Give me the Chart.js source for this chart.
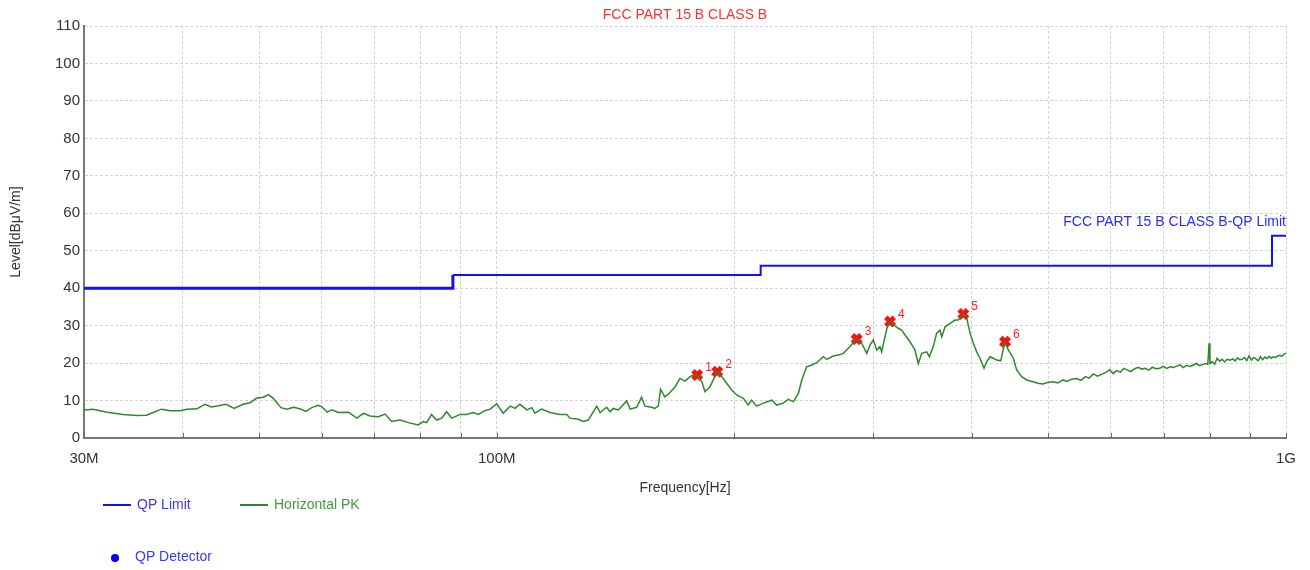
<!DOCTYPE html>
<html>
<head>
<meta charset="utf-8">
<script src="https://cdn.jsdelivr.net/npm/chart.js@4.4.0/dist/chart.umd.min.js"></script>
<style>
  html, body { margin: 0; padding: 0; background: #fff; }
  #wrap { width: 1310px; height: 570px; position: relative; }
</style>
</head>
<body>
<div id="wrap"><canvas id="emi"></canvas></div>
<script>
// frequencies in MHz, levels in dBuV/m
const limitFreq = [30, 88, 216, 960, 1000];
const limitLevel = [40, 43.5, 46, 54, 54];

const pkFreq = [
  30.0, 30.8, 32.1, 33.6, 35.0, 36.0, 36.7, 37.6, 38.6, 39.7,
  40.5, 41.7, 42.7, 43.5, 44.4, 45.4, 46.5, 47.7, 48.7, 49.6,
  50.6, 51.4, 52.1, 53.3, 54.2, 55.3, 56.3, 57.3, 58.3, 59.4,
  60.0, 61.0, 61.8, 63.0, 64.9, 66.5, 67.8, 69.1, 70.8, 72.2,
  73.6, 75.4, 77.3, 79.5, 80.7, 81.5, 82.7, 83.9, 85.2, 86.4,
  87.7, 89.9, 91.6, 93.4, 94.8, 96.6, 98.1, 100.0, 101.9, 104.0,
  105.5, 107.0, 109.2, 110.8, 111.8, 114.0, 116.8, 120.3, 122.7, 123.8,
  126.9, 128.8, 130.6, 133.9, 135.2, 137.8, 139.2, 140.5, 142.6, 146.1,
  147.6, 150.4, 152.6, 154.1, 157.1, 158.6, 160.2, 161.3, 163.3, 165.0,
  168.3, 170.7, 173.2, 175.8, 177.5, 179.5, 181.9, 183.6, 186.3, 188.1,
  190.3, 192.8, 195.6, 198.5, 201.4, 205.3, 208.3, 210.4, 213.5, 217.7,
  223.1, 226.3, 230.7, 234.1, 237.6, 241.1, 243.5, 247.0, 250.7, 254.4,
  259.3, 261.9, 266.9, 271.7, 274.9, 280.3, 285.8, 290.0, 294.3, 297.1,
  300.0, 303.0, 305.9, 307.4, 310.4, 312.5, 315.0, 319.6, 322.7, 325.9,
  329.1, 333.9, 338.8, 342.1, 345.5, 350.6, 353.3, 357.4, 360.9, 364.4,
  366.3, 369.9, 375.3, 380.8, 384.5, 390.1, 394.0, 397.8, 401.7, 405.6,
  409.6, 414.4, 417.7, 421.7, 425.7, 430.0, 435.1, 437.6, 440.6, 444.8,
  451.4, 455.8, 462.5, 469.4, 478, 485, 492, 500, 507, 514,
  522, 528, 535, 543, 550, 557, 563, 570, 577, 584,
  592, 598, 604, 610, 617, 623, 629, 636, 643, 650,
  656, 663, 670, 677, 684, 692, 699, 706, 713, 720,
  727, 734, 741, 748, 756, 763, 770, 777, 784, 791,
  796, 799, 801, 806, 812, 818, 824, 830, 836, 842,
  849, 856, 862, 868, 874, 880, 886, 892, 898, 904,
  910, 916, 922, 928, 934, 940, 946, 952, 958, 964,
  970, 976, 982, 988, 994, 1000
];
const pkLevel = [
  7.5, 7.7, 6.9, 6.3, 6.0, 6.1, 6.8, 7.7, 7.3, 7.3,
  7.7, 7.8, 9.0, 8.3, 8.6, 9.0, 7.9, 9.0, 9.4, 10.6,
  10.9, 11.6, 10.6, 8.1, 7.7, 8.2, 7.8, 7.1, 8.1, 8.7,
  8.4, 6.9, 7.5, 6.8, 6.9, 5.3, 6.6, 5.9, 5.7, 6.4,
  4.4, 4.8, 4.1, 3.5, 4.4, 4.1, 6.3, 4.8, 5.3, 7.0,
  5.3, 6.3, 6.3, 6.8, 6.3, 7.3, 7.7, 9.1, 6.6, 8.5,
  7.9, 9.0, 7.5, 8.1, 6.6, 7.7, 6.8, 6.3, 6.3, 5.3,
  5.0, 4.4, 4.8, 8.5, 6.8, 8.2, 7.0, 7.9, 7.5, 9.9,
  7.7, 8.2, 10.9, 8.5, 8.2, 7.9, 8.5, 13.0, 11.0, 11.7,
  13.7, 15.9, 15.2, 16.4, 16.8, 16.8, 15.0, 12.4, 13.7, 15.5,
  17.7, 16.4, 14.6, 12.8, 11.5, 10.6, 8.8, 10.1, 8.5, 9.3,
  10.1, 8.8, 9.3, 10.3, 9.7, 11.9, 15.5, 19.0, 19.5, 20.1,
  21.7, 21.0, 21.9, 22.2, 22.6, 24.4, 26.4, 25.3, 22.6, 24.8,
  26.2, 23.5, 24.4, 23.0, 27.0, 29.7, 31.1, 29.9, 29.3, 28.8,
  27.5, 25.7, 23.5, 19.8, 22.6, 23.0, 21.7, 24.4, 28.0, 28.8,
  27.0, 29.7, 30.6, 31.5, 31.5, 33.1, 32.0, 28.0, 25.3, 23.0,
  21.3, 18.6, 20.4, 21.7, 21.3, 20.8, 20.6, 23.0, 25.7, 23.5,
  21.3, 18.2, 16.4, 15.5, 15.0, 14.6, 14.4, 14.9, 15.0, 14.7,
  15.5, 15.1, 15.7, 15.9, 15.4, 16.4, 16.0, 17.1, 16.5, 17.0,
  17.6, 18.2, 17.2, 18.0, 17.6, 18.6, 18.2, 17.7, 18.5, 18.9,
  18.4, 18.6, 18.1, 18.9, 18.5, 18.6, 19.1, 18.6, 19.0, 18.8,
  19.2, 19.5, 18.8, 19.4, 19.1, 19.5, 19.9, 19.3, 19.6, 19.9,
  19.7, 25.3, 19.9, 20.4, 19.7, 21.3, 20.5, 21.0, 20.3, 21.0,
  20.8, 21.1, 20.6, 21.4, 20.9, 21.0, 21.5, 20.7, 22.0, 20.8,
  21.5, 21.1, 20.6, 21.7, 20.9, 21.6, 21.2, 21.8, 21.3, 21.7,
  21.5, 21.9, 22.1, 21.8, 22.4, 22.6
];

const markerFreq = [179.5, 190.3, 285.8, 315.0, 390.1, 440.6];
const markerLevel = [16.8, 17.7, 26.4, 31.1, 33.1, 25.7];
const markerNames = ['1', '2', '3', '4', '5', '6'];

const xTicks = [30, 40, 50, 60, 70, 80, 90, 100, 200, 300, 400, 500, 600, 700, 800, 900, 1000];
const xTickNames = { 30: '30M', 100: '100M', 1000: '1G' };

const FONT = '"Liberation Sans", Arial, sans-serif';

const limitData = limitFreq.map((f, i) => ({ x: f, y: limitLevel[i] }));
const pkData = pkFreq.map((f, i) => ({ x: f, y: pkLevel[i] }));
const markerData = markerFreq.map((f, i) => ({ x: f, y: markerLevel[i] }));

// titles, marker numbers, limit label and the legend block under the axis
const decorPlugin = {
  id: 'decor',
  afterDraw(chart) {
    const ctx = chart.ctx;
    const area = chart.chartArea;
    const xs = chart.scales.x;
    const ys = chart.scales.y;
    ctx.save();

    // short inner tick marks on the frequency axis
    ctx.strokeStyle = '#666';
    ctx.lineWidth = 1;
    xTicks.forEach(v => {
      const px = Math.round(xs.getPixelForValue(v)) + 0.5;
      ctx.beginPath(); ctx.moveTo(px, area.bottom); ctx.lineTo(px, area.bottom - 5); ctx.stroke();
    });

    ctx.textBaseline = 'middle';
    ctx.font = '14px ' + FONT;
    ctx.fillStyle = '#ff3030';
    ctx.textAlign = 'center';
    ctx.fillText('FCC PART 15 B CLASS B', (area.left + area.right) / 2, 15);

    ctx.fillStyle = '#2a2aff';
    ctx.textAlign = 'right';
    ctx.fillText('FCC PART 15 B CLASS B-QP Limit', area.right, ys.getPixelForValue(57.5));

    ctx.fillStyle = '#333';
    ctx.textAlign = 'center';
    ctx.fillText('Frequency[Hz]', (area.left + area.right) / 2, 488);
    ctx.save();
    ctx.translate(16, (area.top + area.bottom) / 2);
    ctx.rotate(-Math.PI / 2);
    ctx.fillText('Level[dBμV/m]', 0, 0);
    ctx.restore();

    // marker numbers
    ctx.font = '12px ' + FONT;
    ctx.fillStyle = '#ff2020';
    ctx.textAlign = 'left';
    markerData.forEach((p, i) => {
      ctx.fillText(markerNames[i], xs.getPixelForValue(p.x) + 8, ys.getPixelForValue(p.y) - 7);
    });

    // legend
    const ds = chart.data.datasets;
    ctx.font = '14px ' + FONT;
    ctx.lineWidth = 2;
    ctx.strokeStyle = ds[0].borderColor;
    ctx.beginPath(); ctx.moveTo(103, 505); ctx.lineTo(131, 505); ctx.stroke();
    ctx.fillStyle = '#3838ff';
    ctx.fillText(ds[0].label, 137, 505);

    ctx.strokeStyle = ds[1].borderColor;
    ctx.beginPath(); ctx.moveTo(240, 505); ctx.lineTo(268, 505); ctx.stroke();
    ctx.fillStyle = '#3f9a3f';
    ctx.fillText(ds[1].label, 274, 505);

    ctx.fillStyle = '#0000ee';
    ctx.beginPath(); ctx.arc(115, 558, 4, 0, Math.PI * 2); ctx.fill();
    ctx.fillStyle = '#3838ff';
    ctx.fillText('QP Detector', 135, 557);
    ctx.restore();
  }
};

const chart = new Chart(document.getElementById('emi'), {
  type: 'line',
  data: {
    datasets: [
      {
        label: 'QP Limit',
        data: limitData,
        borderColor: '#1010ff',
        borderWidth: 2,
        stepped: true,
        pointRadius: 0,
        segment: {
          borderWidth: c => (c.p0DataIndex === 0 ? 3 : 2)
        }
      },
      {
        label: 'Horizontal PK',
        data: pkData,
        borderColor: '#2a8a2a',
        borderWidth: 1.5,
        pointRadius: 0,
        tension: 0
      },
      {
        label: 'Markers',
        data: markerData,
        showLine: false,
        pointStyle: 'crossRot',
        pointRadius: 6,
        pointBorderWidth: 5,
        borderColor: '#ff1010',
        backgroundColor: '#ff1010'
      }
    ]
  },
  options: {
    responsive: true,
    maintainAspectRatio: false,
    animation: false,
    events: [],
    layout: { padding: { top: 26, right: 24, left: 0, bottom: 0 } },
    plugins: {
      legend: { display: false },
      tooltip: { enabled: false }
    },
    scales: {
      x: {
        type: 'logarithmic',
        min: 30,
        max: 1000,
        afterBuildTicks: scale => {
          scale.ticks = xTicks.map(v => ({ value: v }));
        },
        afterFit: scale => { scale.height = 132; },
        ticks: {
          autoSkip: false,
          maxRotation: 0,
          padding: 12,
          color: '#333',
          font: { family: FONT, size: 15 },
          callback: v => xTickNames[v] || ''
        },
        grid: { color: '#d4d4d4', lineWidth: 1, drawTicks: false },
        border: { color: '#777', width: 2, dash: [3, 2] }
      },
      y: {
        min: 0,
        max: 110,
        afterFit: scale => { scale.width = 84; },
        ticks: {
          stepSize: 10,
          padding: 4,
          color: '#333',
          font: { family: FONT, size: 15 }
        },
        grid: { color: '#d4d4d4', lineWidth: 1, drawTicks: false },
        border: { color: '#777', width: 2, dash: [3, 2] }
      }
    }
  },
  plugins: [decorPlugin]
});
</script>
</body>
</html>
